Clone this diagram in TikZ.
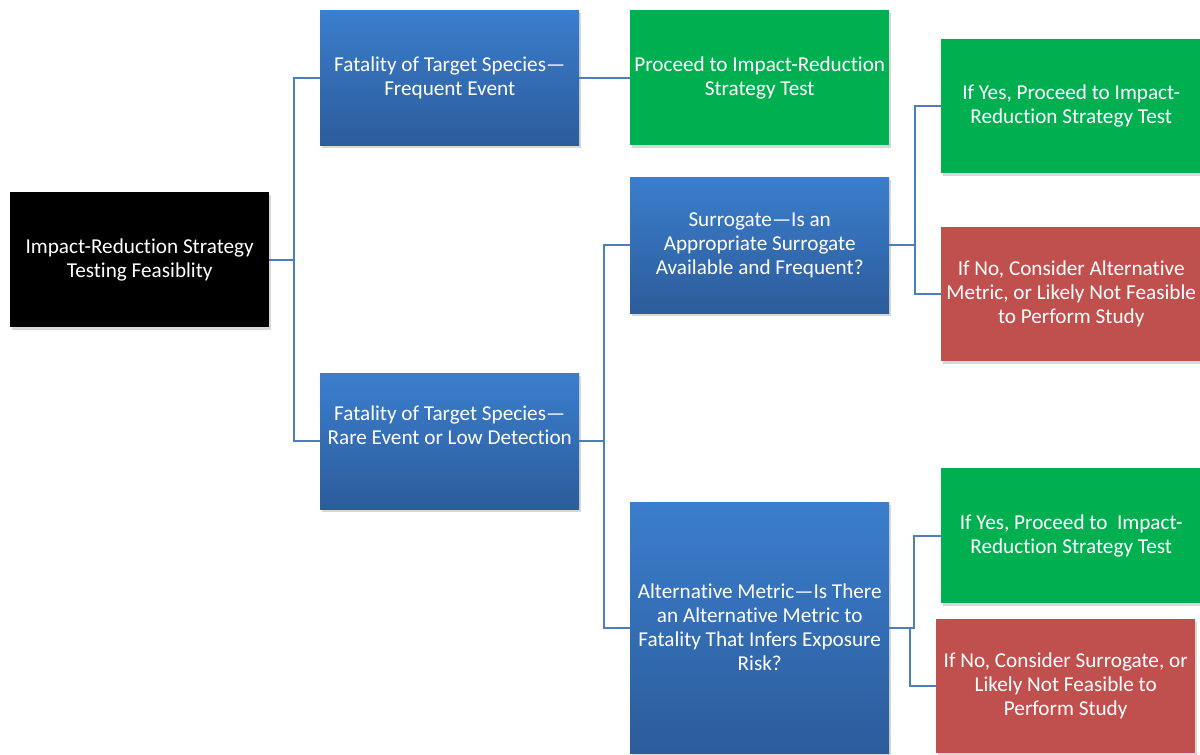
\documentclass[tikz,border=0pt]{standalone}
\usepackage{fontspec}
\setmainfont{Carlito}[Ligatures={NoCommon}]
\usetikzlibrary{shadows}
\definecolor{cblueT}{HTML}{3B7ECD}
\definecolor{cblueB}{HTML}{2C5C9B}
\definecolor{cgreen}{HTML}{00B050}
\definecolor{cred}{HTML}{C0504D}
\definecolor{cline}{HTML}{4F7DBA}
\tikzset{
  box/.style={anchor=north west, inner sep=0pt, align=center, text=white,
    font=\fontsize{21.2}{24}\selectfont,
    drop shadow={shadow xshift=2pt, shadow yshift=-3pt, opacity=0.3}},
  bluebox/.style={box, top color=cblueT, bottom color=cblueB},
  greenbox/.style={box, fill=cgreen},
  redbox/.style={box, fill=cred},
  blackbox/.style={box, fill=black},
  conn/.style={draw=cline, line width=1.6pt}
}
\begin{document}
\begin{tikzpicture}[x=1pt,y=-1pt]
\useasboundingbox[fill=white] (0,0) rectangle (1200,755);

\node[blackbox, minimum width=259pt, minimum height=135pt] (root) at (10,192)
  {Impact-Reduction Strategy\\Testing Feasiblity};

\node[bluebox, minimum width=259pt, minimum height=135pt] (b1) at (320,10)
  {Fatality of Target Species—\\Frequent Event};
\node[bluebox, minimum width=259pt, minimum height=136pt] (b2) at (320,373)
  {Fatality of Target Species—\\Rare Event or Low Detection\\\strut};

\node[greenbox, minimum width=259pt, minimum height=135pt] (g1) at (630,10)
  {Proceed to Impact-Reduction\\Strategy Test};
\node[bluebox, minimum width=259pt, minimum height=136pt] (b3) at (630,177)
  {Surrogate—Is an\\Appropriate Surrogate\\Available and Frequent?};
\node[bluebox, minimum width=259pt, minimum height=251pt] (b4) at (630,502)
  {Alternative Metric—Is There\\an Alternative Metric to\\Fatality That Infers Exposure\\Risk?};

\node[greenbox, minimum width=260pt, minimum height=134pt] (g2) at (941,39)
  {If Yes, Proceed to Impact-\\Reduction Strategy Test};
\node[redbox, minimum width=260pt, minimum height=134pt] (r1) at (941,227)
  {If No, Consider Alternative\\Metric, or Likely Not Feasible\\to Perform Study};
\node[greenbox, minimum width=260pt, minimum height=135pt] (g3) at (941,468)
  {If Yes, Proceed to\ \ Impact-\\Reduction Strategy Test};
\node[redbox, minimum width=259pt, minimum height=134pt] (r2) at (936,619)
  {If No, Consider Surrogate, or\\Likely Not Feasible to\\Perform Study};

\coordinate (j1) at (294,259);
\coordinate (j2) at (604,441);
\coordinate (j3) at (915,244);
\coordinate (j4) at (914,627);
\coordinate (j5) at (910,627);

\draw[conn] (root.east) -- (j1 |- root.east) |- (b1.west);
\draw[conn] (j1 |- root.east) |- (b2.west);
\draw[conn] (b1.east) -- (g1.west);
\draw[conn] (b2.east) -- (j2 |- b2.east) |- (b3.west);
\draw[conn] (j2 |- b2.east) |- (b4.west);
\draw[conn] (b3.east) -- (j3 |- b3.east) |- (g2.west);
\draw[conn] (j3 |- b3.east) |- (r1.west);
\draw[conn] (b4.east) -- (j4 |- b4.east) |- (g3.west);
\draw[conn] (j5 |- b4.east) |- (r2.west);
\end{tikzpicture}
\end{document}
